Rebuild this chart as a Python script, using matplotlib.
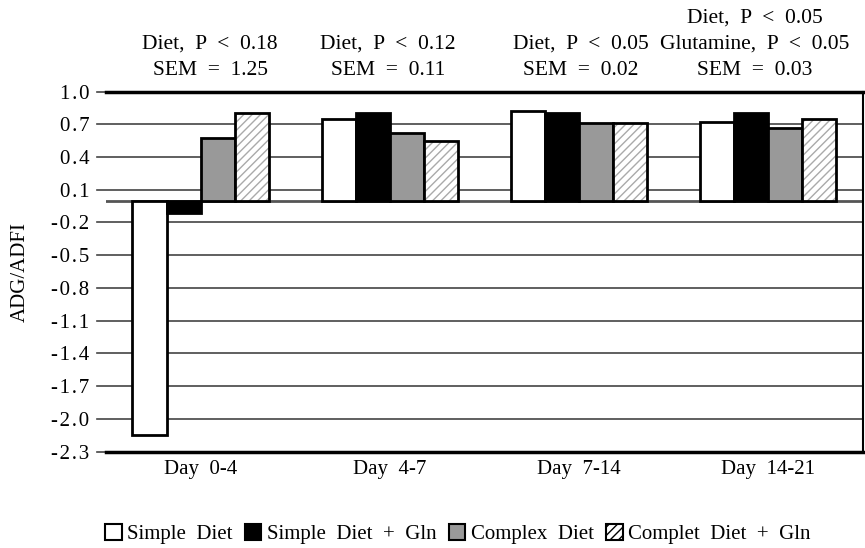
import numpy as np
import matplotlib.pyplot as plt
from matplotlib.patches import Patch

plt.rcParams['font.family'] = ['Liberation Serif', 'DejaVu Serif']

days = ['Day  0-4', 'Day  4-7', 'Day  7-14', 'Day  14-21']
series = ['Simple  Diet', 'Simple  Diet  +  Gln', 'Complex  Diet', 'Complet  Diet  +  Gln']
simple = [-2.15, 0.75, 0.82, 0.72]
simple_gln = [-0.11, 0.80, 0.80, 0.80]
complex_diet = [0.57, 0.62, 0.715, 0.67]
complex_gln = [0.80, 0.55, 0.715, 0.745]
notes = ['Diet,  P  <  0.18\nSEM  =  1.25',
         'Diet,  P  <  0.12\nSEM  =  0.11',
         'Diet,  P  <  0.05\nSEM  =  0.02',
         'Diet,  P  <  0.05\nGlutamine,  P  <  0.05\nSEM  =  0.03']
note_x = [0.05, 0.99, 2.01, 2.93]
yticks = [1.0, 0.7, 0.4, 0.1, -0.2, -0.5, -0.8, -1.1, -1.4, -1.7, -2.0, -2.3]

fig = plt.figure(figsize=(8.65, 5.48), dpi=100)
ax = fig.add_axes([0.1225, 0.176, 0.875, 0.657])

x = np.arange(len(days))
w = 0.18
offs = [-1.5 * w, -0.5 * w, 0.5 * w, 1.5 * w]

for yv in yticks:
    ax.axhline(yv, color='#444444', lw=1.2, zorder=0, xmin=-0.012, clip_on=False)
ax.axhline(0, color='#555555', lw=2, zorder=1)

ax.bar(x + offs[0], simple, w, color='white', edgecolor='black', lw=2, zorder=3)
ax.bar(x + offs[1], simple_gln, w, color='black', edgecolor='black', lw=2, zorder=3)
ax.bar(x + offs[2], complex_diet, w, color='#999999', edgecolor='black', lw=2, zorder=3)
ax.bar(x + offs[3], complex_gln, w, color='white', edgecolor='#aaaaaa', lw=0, hatch='////', zorder=3)
ax.bar(x + offs[3], complex_gln, w, color='none', edgecolor='black', lw=2, zorder=4)

def spaced(v):
    return '\u200a'.join('%.1f' % v)

ax.set_xlim(-0.5, 3.5)
ax.set_ylim(-2.3, 1.0)
ax.set_yticks(yticks)
ax.set_yticklabels([spaced(v) for v in yticks], fontsize=15)
ax.tick_params(axis='y', length=0, pad=12)
ax.set_xticks(x)
ax.set_xticklabels(days, fontsize=15)
ax.tick_params(axis='x', length=0, pad=6)
ax.set_ylabel('ADG/ADFI', fontsize=15)
ax.yaxis.set_label_coords(-0.1, 0.5)

ax.spines['left'].set_visible(False)
ax.spines['top'].set_linewidth(2.5)
ax.spines['bottom'].set_linewidth(2.5)
ax.spines['right'].set_linewidth(1.5)

for nx, txt in zip(note_x, notes):
    ax.text(nx, 1.11, txt, ha='center', va='bottom', fontsize=15.5, linespacing=1.5)

handles = [Patch(facecolor='white', edgecolor='black', lw=1.5),
           Patch(facecolor='black', edgecolor='black', lw=1.5),
           Patch(facecolor='#999999', edgecolor='black', lw=1.5),
           Patch(facecolor='white', edgecolor='black', lw=1.5, hatch='////')]
fig.legend(handles, series, loc='center right', bbox_to_anchor=(0.937, 0.025), ncol=4,
           frameon=False, fontsize=15, handlelength=0.8, handleheight=0.8,
           handletextpad=0.25, columnspacing=0.6, borderpad=0, borderaxespad=0)

fig.savefig('out.png', dpi=100)
